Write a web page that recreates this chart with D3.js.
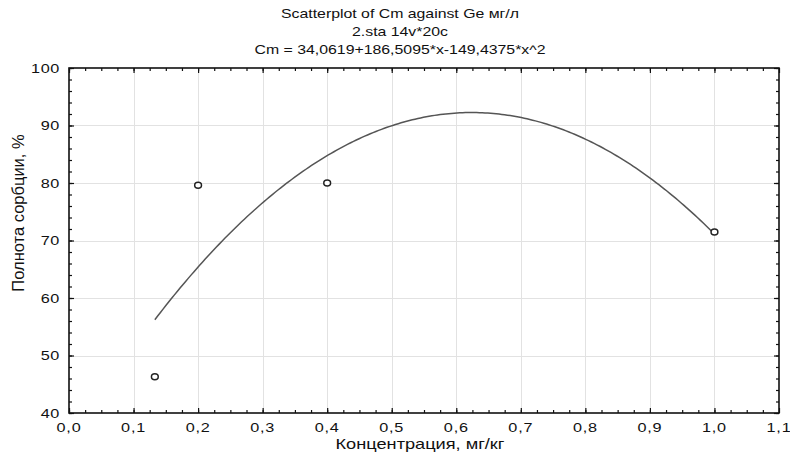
<!DOCTYPE html>
<html><head><meta charset="utf-8">
<script src="https://cdn.jsdelivr.net/npm/d3@7"></script>
<style>
body{margin:0;background:#fff}
svg{display:block}
text{font-family:"Liberation Sans",Arial,sans-serif;fill:#111}
</style></head>
<body><svg id="c" width="790" height="454"></svg>
<script>
// ---- data ----
const titleLines = ["Scatterplot of Cm against Ge мг/л", "2.sta 14v*20c", "Cm = 34,0619+186,5095*x-149,4375*x^2"];
const xLabel = "Концентрация, мг/кг";
const yLabel = "Полнота сорбции, %";
const xValues = [0.133, 0.2, 0.4, 1.0];
const yValues = [46.3, 79.6, 80.0, 71.5];
const fitCoefficients = [34.0619, 186.5095, -149.4375];
const fitRange = [0.133, 1.0];
const xTicks = [0, 0.1, 0.2, 0.3, 0.4, 0.5, 0.6, 0.7, 0.8, 0.9, 1.0, 1.1];
const xTickLabels = ["0,0", "0,1", "0,2", "0,3", "0,4", "0,5", "0,6", "0,7", "0,8", "0,9", "1,0", "1,1"];
const yTicks = [40, 50, 60, 70, 80, 90, 100];
const yTickLabels = ["40", "50", "60", "70", "80", "90", "100"];
const xDomain = [0, 1.1];
const yDomain = [40, 100];

// ---- layout ----
const W = 790, H = 454;
const L = 69, R = 779, T = 68, B = 413;
const SX = 1.3; // horizontal text stretch

const svg = d3.select("#c");
const x = d3.scaleLinear().domain(xDomain).range([L, R]);
const y = d3.scaleLinear().domain(yDomain).range([B, T]);

// gridlines
const grid = svg.append("g").attr("stroke", "#e2e2e2").attr("stroke-width", 1);
grid.selectAll("line.v").data(xTicks.slice(1, -1)).join("line")
  .attr("x1", d => Math.round(x(d)) + 0.5).attr("x2", d => Math.round(x(d)) + 0.5)
  .attr("y1", T).attr("y2", B);
grid.selectAll("line.h").data(yTicks.slice(1, -1)).join("line")
  .attr("y1", d => Math.round(y(d)) + 0.5).attr("y2", d => Math.round(y(d)) + 0.5)
  .attr("x1", L).attr("x2", R);

// minor ticks
const xMinor = d3.range(0, 44).map(i => i * 0.025).filter(v => v <= 1.1 + 1e-9);
const yMinor = d3.range(0, 31).map(i => 40 + i * 2);

function axisStyle(g) {
  g.select(".domain").remove();
  g.selectAll("text").remove();
  g.selectAll("line").attr("stroke", "#111").attr("stroke-width", 1.2);
}
// minor
svg.append("g").attr("transform", `translate(0,${B})`)
  .call(d3.axisBottom(x).tickValues(xMinor).tickSize(-3)).call(axisStyle);
svg.append("g").attr("transform", `translate(0,${T})`)
  .call(d3.axisTop(x).tickValues(xMinor).tickSize(-3)).call(axisStyle);
svg.append("g").attr("transform", `translate(${L},0)`)
  .call(d3.axisLeft(y).tickValues(yMinor).tickSize(-3)).call(axisStyle);
svg.append("g").attr("transform", `translate(${R},0)`)
  .call(d3.axisRight(y).tickValues(yMinor).tickSize(-3)).call(axisStyle);
// major
svg.append("g").attr("transform", `translate(0,${B})`)
  .call(d3.axisBottom(x).tickValues(xTicks).tickSize(-5)).call(axisStyle);
svg.append("g").attr("transform", `translate(0,${T})`)
  .call(d3.axisTop(x).tickValues(xTicks).tickSize(-5)).call(axisStyle);
svg.append("g").attr("transform", `translate(${L},0)`)
  .call(d3.axisLeft(y).tickValues(yTicks).tickSize(-5)).call(axisStyle);
svg.append("g").attr("transform", `translate(${R},0)`)
  .call(d3.axisRight(y).tickValues(yTicks).tickSize(-5)).call(axisStyle);

// frame
svg.append("rect").attr("x", L).attr("y", T).attr("width", R - L).attr("height", B - T)
  .attr("fill", "none").attr("stroke", "#111").attr("stroke-width", 1.6);

// tick labels
svg.append("g").selectAll("text").data(xTicks).join("text")
  .attr("transform", d => `translate(${x(d)},${B + 19}) scale(${SX},1)`)
  .attr("text-anchor", "middle").attr("font-size", 12.5).attr("letter-spacing", 0.6)
  .text((d, i) => xTickLabels[i]);
svg.append("g").selectAll("text").data(yTicks).join("text")
  .attr("transform", d => `translate(${L - 9},${y(d) + 4.5}) scale(${SX},1)`)
  .attr("text-anchor", "end").attr("font-size", 12.5).attr("letter-spacing", 0.5)
  .text((d, i) => yTickLabels[i]);

// titles
svg.append("g").selectAll("text").data(titleLines).join("text")
  .attr("transform", (d, i) => `translate(400,${18 + i * 18}) scale(${SX},1)`)
  .attr("text-anchor", "middle").attr("font-size", 12.2)
  .text(d => d);

// axis labels
svg.append("text")
  .attr("transform", `translate(${(L + R) / 2 - 4},${449}) scale(${SX},1)`)
  .attr("text-anchor", "middle").attr("font-size", 14).text(xLabel);
svg.append("text")
  .attr("transform", `translate(24,213) rotate(-90)`)
  .attr("text-anchor", "middle").attr("font-size", 16.5).text(yLabel);

// fitted curve
const fit = v => fitCoefficients[0] + fitCoefficients[1] * v + fitCoefficients[2] * v * v;
const curveX = d3.range(fitRange[0], fitRange[1] + 1e-9, (fitRange[1] - fitRange[0]) / 200);
svg.append("path")
  .datum(curveX)
  .attr("fill", "none").attr("stroke", "#555").attr("stroke-width", 1.5)
  .attr("d", d3.line().x(d => x(d)).y(d => y(fit(d))));

// points
svg.append("g").selectAll("ellipse").data(xValues).join("ellipse")
  .attr("cx", d => x(d)).attr("cy", (d, i) => y(yValues[i]))
  .attr("rx", 3.4).attr("ry", 3).attr("fill", "#fff").attr("stroke", "#222").attr("stroke-width", 1.5);
</script></body></html>
